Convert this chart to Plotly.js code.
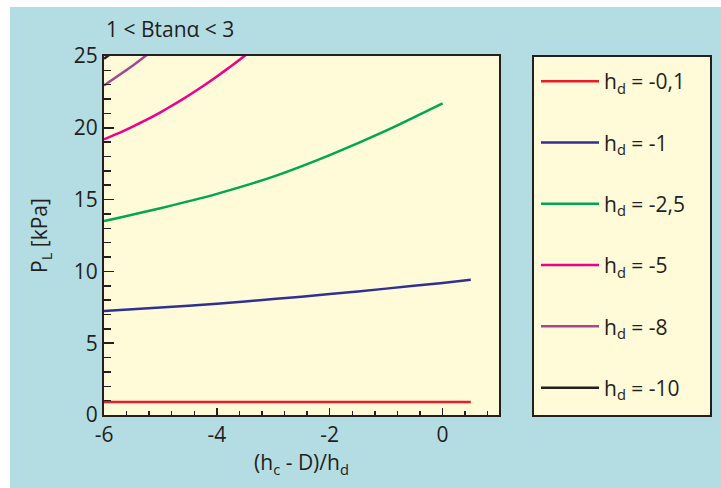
<!DOCTYPE html>
<html>
<head>
<meta charset="utf-8">
<script src="https://cdn.plot.ly/plotly-3.0.1.min.js"></script>
<style>html,body{margin:0;padding:0;background:#fff;}#chart{width:721px;height:488px;}</style>
</head>
<body>
<div id="chart"></div>
<script>
// Series names
const seriesNames = ["h<sub>d</sub> = -0,1", "h<sub>d</sub> = -1", "h<sub>d</sub> = -2,5", "h<sub>d</sub> = -5", "h<sub>d</sub> = -8", "h<sub>d</sub> = -10"];
// x values, (hc - D)/hd
const xRed = [-6, -4, -2, 0, 0.5];
const xBlue = [-6, -5, -4, -3, -2, -1, 0, 0.5];
const xGreen = [-6, -5, -4, -3, -2, -1, 0];
const xPink = [-6, -5.75, -5.5, -5.25, -5, -4.75, -4.5, -4.25, -4, -3.75, -3.5, -3.25];
const xPurple = [-6, -5.5, -5.2];
const xBlack = [-6, -5.8];
// P_L [kPa]
const yRed = [0.9, 0.9, 0.9, 0.9, 0.9];
const yBlue = [7.25, 7.48, 7.75, 8.07, 8.42, 8.8, 9.2, 9.42];
const yGreen = [13.5, 14.4, 15.4, 16.6, 18.1, 19.8, 21.7];
const yPink = [19.2, 19.61, 20.07, 20.55, 21.08, 21.65, 22.25, 22.89, 23.57, 24.29, 25.04, 25.84];
const yPurple = [22.95, 24.3, 25.2];
const yBlack = [24.8, 25.4];
const colors = ["#ed1c24", "#2e3192", "#00a651", "#ec008c", "#a3478f", "#231f20"];

const xs = [xRed, xBlue, xGreen, xPink, xPurple, xBlack];
const ys = [yRed, yBlue, yGreen, yPink, yPurple, yBlack];

const FONT = "Open Sans, sans-serif";
const INK = "#231f20";
const BLUE_BG = "#b3dde3";
const YELLOW = "#fffad8";
const FS = 21;

const traces = xs.map((x, i) => ({
  x: x, y: ys[i], type: "scatter", mode: "lines",
  name: seriesNames[i], legendgroup: "g" + i,
  line: {color: colors[i], width: 2.5, shape: "spline", smoothing: 0.6}
}));

// paper coordinate helpers (plot area: 104..499 px, 56..415 px)
const L = 104, R = 499, T = 56, B = 415;
const px = v => (v - L) / (R - L);
const py = v => (B - v) / (B - T);

const layout = {
  width: 721, height: 488,
  margin: {l: L, r: 721 - R, t: T, b: 488 - B},
  paper_bgcolor: BLUE_BG,
  plot_bgcolor: YELLOW,
  font: {family: FONT, size: FS, color: INK},
  showlegend: true,
  legend: {
    x: px(536), y: py(61), xanchor: "left", yanchor: "top",
    bgcolor: "rgba(0,0,0,0)", borderwidth: 0,
    font: {family: FONT, size: FS, color: INK},
    tracegroupgap: 31, itemwidth: 58
  },
  xaxis: {
    range: [-6, 1], tickvals: [-6, -4, -2, 0], ticktext: ["-6", "-4", "-2", "0"],
    ticks: "inside", ticklen: 7, tickwidth: 1.5, tickcolor: INK,
    showline: true, linecolor: INK, linewidth: 2, mirror: true,
    showgrid: false, zeroline: false,
    tickfont: {family: FONT, size: FS, color: INK},
    minor: {dtick: 0.4, tick0: -6, ticks: "inside", ticklen: 4, tickwidth: 1.5, tickcolor: INK, showgrid: false},
    title: {text: "(h<sub>c</sub> - D)/h<sub>d</sub>", font: {family: FONT, size: FS, color: INK}, standoff: 6}
  },
  yaxis: {
    range: [0, 25], tickvals: [0, 5, 10, 15, 20, 25],
    ticks: "inside", ticklen: 10, tickwidth: 1.5, tickcolor: INK,
    showline: true, linecolor: INK, linewidth: 2, mirror: true,
    showgrid: false, zeroline: false,
    tickfont: {family: FONT, size: FS, color: INK},
    minor: {dtick: 1, tick0: 0, ticks: "inside", ticklen: 7, tickwidth: 1.5, tickcolor: INK, showgrid: false},
    title: {text: "P<sub>L</sub> [kPa]", font: {family: FONT, size: FS, color: INK}, standoff: 20}
  },
  title: {
    text: "1 < Btanα < 3", x: px(106), xanchor: "left", xref: "paper",
    y: 1 - 30 / 488, yanchor: "middle",
    font: {family: FONT, size: FS, color: INK}
  },
  shapes: [
    // white strips at top and left of the figure
    {type: "rect", xref: "paper", yref: "paper", x0: px(0), x1: px(10), y0: py(488), y1: py(0), fillcolor: "#ffffff", line: {width: 0}, layer: "below"},
    {type: "rect", xref: "paper", yref: "paper", x0: px(0), x1: px(721), y0: py(7), y1: py(0), fillcolor: "#ffffff", line: {width: 0}, layer: "below"},
    // legend box
    {type: "rect", xref: "paper", yref: "paper", x0: px(533), x1: px(711), y0: py(416), y1: py(56), fillcolor: YELLOW, line: {color: INK, width: 2}, layer: "below"}
  ]
};

Plotly.newPlot("chart", traces, layout, {displayModeBar: false, staticPlot: true});
</script>
</body>
</html>
